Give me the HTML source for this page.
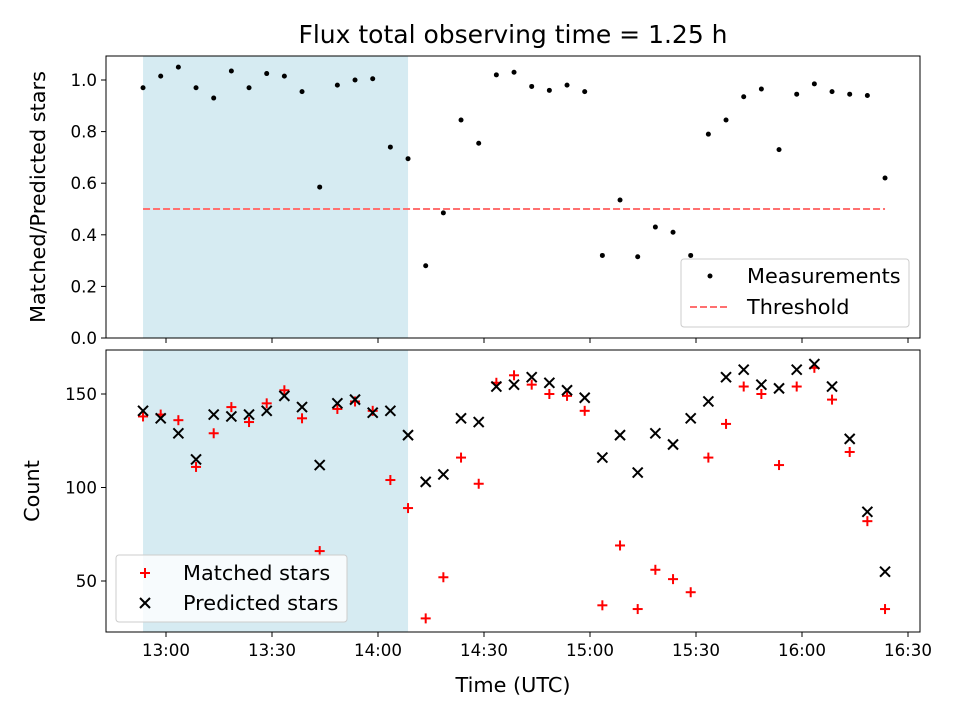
<!DOCTYPE html>
<html><head><meta charset="utf-8"><style>
body{margin:0;background:#fff;font-family:"DejaVu Sans","Liberation Sans",sans-serif;}
svg text{font-family:"DejaVu Sans","Liberation Sans",sans-serif;}
</style></head><body>
<svg id="chart" width="960" height="720" xmlns="http://www.w3.org/2000/svg"></svg>
<script>
const timesMin = [];
for (let k = 0; k < 43; k++) timesMin.push(-6.5 + 5 * k);
const ratio = [0.97,1.015,1.05,0.97,0.93,1.035,0.97,1.025,1.015,0.955,0.585,0.98,1.0,1.005,0.74,0.695,0.28,0.485,0.845,0.755,1.02,1.03,0.975,0.96,0.98,0.955,0.32,0.535,0.315,0.43,0.41,0.32,0.79,0.845,0.935,0.965,0.73,0.945,0.985,0.955,0.945,0.94,0.62];
const matched = [138,139,136,111,129,143,135,145,152,137,66,142,146,141,104,89,30,52,116,102,156,160,155,150,149,141,37,69,35,56,51,44,116,134,154,150,112,154,164,147,119,82,35];
const predicted = [141,137,129,115,139,138,139,141,149,143,112,145,147,140,141,128,103,107,137,135,154,155,159,156,152,148,116,128,108,129,123,137,146,159,163,155,153,163,166,154,126,87,55];
const xTicks = [0,30,60,90,120,150,180,210];
const xTickLabels = ["13:00","13:30","14:00","14:30","15:00","15:30","16:00","16:30"];
const topTicks = [0,0.2,0.4,0.6,0.8,1.0];
const botTicks = [50,100,150];
const threshold = 0.5;
const shadeStart = -6.5, shadeEnd = 68.5;

const svg = document.getElementById('chart');
const NS = 'http://www.w3.org/2000/svg';
function mk(tag, attrs, parent){const e=document.createElementNS(NS,tag);for(const k in attrs)e.setAttribute(k,attrs[k]);(parent||svg).appendChild(e);return e;}
const L=106,R=920;
const x = m => 166 + m*106/30;
const yT = v => 338 - v*258;
const yB = v => 394 - (v-150)*93.5/50;
const T1=56,B1=338,T2=350,B2=632;
const TF=16.7, LF=20.8;

let e;
e=mk('rect',{x:x(shadeStart),y:T1,width:x(shadeEnd)-x(shadeStart),height:B1-T1,fill:'#add8e6','fill-opacity':0.5});

e=mk('rect',{x:x(shadeStart),y:T2,width:x(shadeEnd)-x(shadeStart),height:B2-T2,fill:'#add8e6','fill-opacity':0.5});


e=mk('line',{x1:x(timesMin[0]),x2:x(timesMin[42]),y1:yT(threshold),y2:yT(threshold),stroke:'#ff7070','stroke-width':2,'stroke-dasharray':'7,3'});


ratio.forEach((v,i)=>{const c=mk('circle',{cx:x(timesMin[i]),cy:yT(v),r:2.5,fill:'#000'});

});

function plus(cx,cy,col,p){const g=mk('g',{stroke:col,'stroke-width':2},p);mk('line',{x1:cx-5,x2:cx+5,y1:cy,y2:cy},g);mk('line',{x1:cx,x2:cx,y1:cy-5,y2:cy+5},g);return g;}
function cross(cx,cy,col,p){const g=mk('g',{stroke:col,'stroke-width':2},p);mk('line',{x1:cx-5,x2:cx+5,y1:cy-5,y2:cy+5},g);mk('line',{x1:cx-5,x2:cx+5,y1:cy+5,y2:cy-5},g);return g;}
matched.forEach((v,i)=>{const g=plus(x(timesMin[i]),yB(v),'#f00');

});
predicted.forEach((v,i)=>{const g=cross(x(timesMin[i]),yB(v),'#000');

});

e=mk('rect',{x:L,y:T1,width:R-L,height:B1-T1,fill:'none',stroke:'#000','stroke-width':1});

e=mk('rect',{x:L,y:T2,width:R-L,height:B2-T2,fill:'none',stroke:'#000','stroke-width':1});


xTicks.forEach((m,i)=>{
 mk('line',{x1:x(m),x2:x(m),y1:B1,y2:B1+5,stroke:'#000'});
 mk('line',{x1:x(m),x2:x(m),y1:B2,y2:B2+5,stroke:'#000'});
 const t=mk('text',{x:x(m),y:B2+24,'text-anchor':'middle','font-size':TF});t.textContent=xTickLabels[i];
 
});
topTicks.forEach(v=>{
 mk('line',{x1:L-5,x2:L,y1:yT(v),y2:yT(v),stroke:'#000'});
 const t=mk('text',{x:L-9,y:yT(v)+6,'text-anchor':'end','font-size':TF});t.textContent=v.toFixed(1);
 
});
botTicks.forEach(v=>{
 mk('line',{x1:L-5,x2:L,y1:yB(v),y2:yB(v),stroke:'#000'});
 const t=mk('text',{x:L-9,y:yB(v)+6,'text-anchor':'end','font-size':TF});t.textContent=v;
 
});

e=mk('text',{x:513,y:43,'text-anchor':'middle','font-size':25});e.textContent='Flux total observing time = 1.25 h';

e=mk('text',{x:513,y:692,'text-anchor':'middle','font-size':LF});e.textContent='Time (UTC)';

e=mk('text',{x:0,y:0,'text-anchor':'middle','font-size':LF,transform:'translate(45,197) rotate(-90)'});e.textContent='Matched/Predicted stars';

e=mk('text',{x:0,y:0,'text-anchor':'middle','font-size':LF,transform:'translate(39,491) rotate(-90)'});e.textContent='Count';


let lg=mk('g',{});
mk('rect',{x:681,y:259,width:228,height:68,rx:3,fill:'#fff','fill-opacity':0.8,stroke:'#ccc'},lg);
mk('circle',{cx:710,cy:276,r:2.5,fill:'#000'},lg);
e=mk('text',{x:747,y:283,'font-size':LF},lg);e.textContent='Measurements';
mk('line',{x1:690,x2:730,y1:307,y2:307,stroke:'#ff7070','stroke-width':2,'stroke-dasharray':'7,3'},lg);
e=mk('text',{x:747,y:314,'font-size':LF},lg);e.textContent='Threshold';

lg=mk('g',{});
mk('rect',{x:116,y:555,width:231,height:67,rx:3,fill:'#fff','fill-opacity':0.8,stroke:'#ccc'},lg);
plus(145,573,'#f00',lg);
e=mk('text',{x:183,y:580,'font-size':LF},lg);e.textContent='Matched stars';
cross(145,603,'#000',lg);
e=mk('text',{x:183,y:610,'font-size':LF},lg);e.textContent='Predicted stars';
</script>
</body></html>
